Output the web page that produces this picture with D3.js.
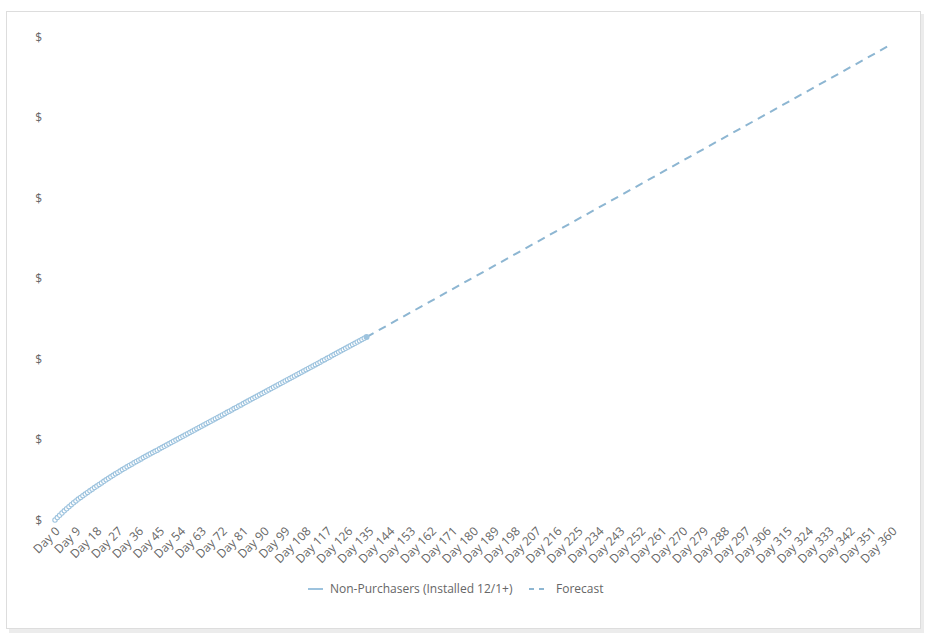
<!DOCTYPE html>
<html>
<head>
<meta charset="utf-8">
<script src="https://cdn.jsdelivr.net/npm/d3@7"></script>
<style>
  html, body { margin: 0; padding: 0; background: #ffffff; }
  svg { display: block; }
  text { font-family: "Open Sans", sans-serif; }
</style>
</head>
<body>
<svg id="chart" width="936" height="642"></svg>
<script>
// ---- data ----
const actualName = "Non-Purchasers (Installed 12/1+)";
const forecastName = "Forecast";
const actualValues = [
  0.000, 0.030, 0.059, 0.087, 0.114, 0.140, 0.165, 0.190, 0.214, 0.237,
  0.260, 0.281, 0.302, 0.322, 0.343, 0.363, 0.383, 0.403, 0.422, 0.442,
  0.461, 0.480, 0.499, 0.518, 0.536, 0.555, 0.573, 0.591, 0.608, 0.626,
  0.643, 0.660, 0.677, 0.694, 0.711, 0.727, 0.743, 0.759, 0.775, 0.791,
  0.806, 0.822, 0.837, 0.853, 0.868, 0.884, 0.900, 0.915, 0.931, 0.946,
  0.962, 0.978, 0.993, 1.009, 1.025, 1.040, 1.056, 1.071, 1.087, 1.103,
  1.118, 1.134, 1.149, 1.165, 1.181, 1.196, 1.212, 1.227, 1.243, 1.259,
  1.274, 1.290, 1.305, 1.321, 1.337, 1.352, 1.368, 1.384, 1.399, 1.415,
  1.430, 1.446, 1.462, 1.477, 1.493, 1.508, 1.524, 1.540, 1.555, 1.571,
  1.586, 1.602, 1.618, 1.633, 1.649, 1.664, 1.680, 1.696, 1.711, 1.727,
  1.743, 1.758, 1.774, 1.789, 1.805, 1.821, 1.836, 1.852, 1.867, 1.883,
  1.899, 1.914, 1.930, 1.945, 1.961, 1.977, 1.992, 2.008, 2.023, 2.039,
  2.055, 2.070, 2.086, 2.102, 2.117, 2.133, 2.148, 2.164, 2.180, 2.195,
  2.211, 2.226, 2.242, 2.258, 2.273
];
const forecastDays = [134, 360];
const forecastValues = [2.273, 5.913];
const xTickDays = [0, 9, 18, 27, 36, 45, 54, 63, 72, 81, 90, 99, 108, 117, 126, 135, 144, 153, 162, 171,
  180, 189, 198, 207, 216, 225, 234, 243, 252, 261, 270, 279, 288, 297, 306, 315, 324, 333, 342, 351, 360];
const yTickValues = [0, 1, 2, 3, 4, 5, 6];
const yTickLabel = "$";

// ---- drawing ----
const svg = d3.select("#chart");

// card with shadow
svg.append("rect").attr("x", 9).attr("y", 14).attr("width", 915).attr("height", 619)
  .attr("fill", "#ececec");
svg.append("rect").attr("x", 6.5).attr("y", 11.5).attr("width", 914).attr("height", 617)
  .attr("fill", "#ffffff").attr("stroke", "#dddddd").attr("stroke-width", 1);

const x = d3.scaleLinear().domain([0, 360]).range([55, 892]);
const y = d3.scaleLinear().domain([0, 6]).range([520, 37]);

const lineColor = "#9dc3de";
const dashColor = "#8db6d2";
const textColor = "#666666";

// y axis (labels only)
const yAxis = d3.axisLeft(y).tickValues(yTickValues).tickFormat(() => yTickLabel).tickSize(0).tickPadding(0);
const gy = svg.append("g").attr("transform", "translate(42,0)").attr("color", textColor).call(yAxis);
gy.select(".domain").remove();
gy.selectAll("text").style("fill", textColor).attr("font-size", 12)
  .attr("font-family", "'Open Sans', sans-serif").attr("dy", "0.35em");

// x axis (labels only, rotated)
const xAxis = d3.axisBottom(x).tickValues(xTickDays).tickFormat(d => "Day " + d).tickSize(0).tickPadding(0);
const gx = svg.append("g").attr("transform", "translate(0,520)").attr("color", textColor).call(xAxis);
gx.select(".domain").remove();
gx.selectAll(".tick text")
  .style("fill", textColor).attr("font-size", 12)
  .attr("font-family", "'Open Sans', sans-serif")
  .attr("text-anchor", "end")
  .attr("dy", null).attr("y", null)
  .attr("transform", "translate(5,12) rotate(-45)");

// forecast dashed line
const fData = forecastDays.map((d, i) => [d, forecastValues[i]]);
svg.append("path").datum(fData)
  .attr("fill", "none").attr("stroke", dashColor).attr("stroke-width", 2)
  .attr("stroke-dasharray", "8,6")
  .attr("d", d3.line().x(d => x(d[0])).y(d => y(d[1])));

// actual series line + hollow markers
const aData = actualValues.map((v, i) => [i, v]);
svg.append("path").datum(aData)
  .attr("fill", "none").attr("stroke", lineColor).attr("stroke-width", 1.5)
  .attr("d", d3.line().x(d => x(d[0])).y(d => y(d[1])));
svg.append("g").selectAll("circle").data(aData.slice(0, -1)).join("circle")
  .attr("cx", d => x(d[0])).attr("cy", d => y(d[1])).attr("r", 2.2)
  .attr("fill", "#ffffff").attr("stroke", lineColor).attr("stroke-width", 1.1);
const last = aData[aData.length - 1];
svg.append("circle").attr("cx", x(last[0])).attr("cy", y(last[1])).attr("r", 3)
  .attr("fill", lineColor);

// legend
const lg = svg.append("g").attr("transform", "translate(0,589)");
lg.append("line").attr("x1", 308).attr("x2", 323).attr("y1", 0).attr("y2", 0)
  .attr("stroke", lineColor).attr("stroke-width", 2);
lg.append("text").attr("x", 330).attr("y", 0).attr("dy", "0.35em")
  .attr("font-size", 12).style("fill", textColor).text(actualName);
lg.append("line").attr("x1", 529).attr("x2", 548).attr("y1", 0).attr("y2", 0)
  .attr("stroke", dashColor).attr("stroke-width", 2).attr("stroke-dasharray", "5,5");
lg.append("text").attr("x", 556).attr("y", 0).attr("dy", "0.35em")
  .attr("font-size", 12).style("fill", textColor).text(forecastName);
</script>
</body>
</html>
